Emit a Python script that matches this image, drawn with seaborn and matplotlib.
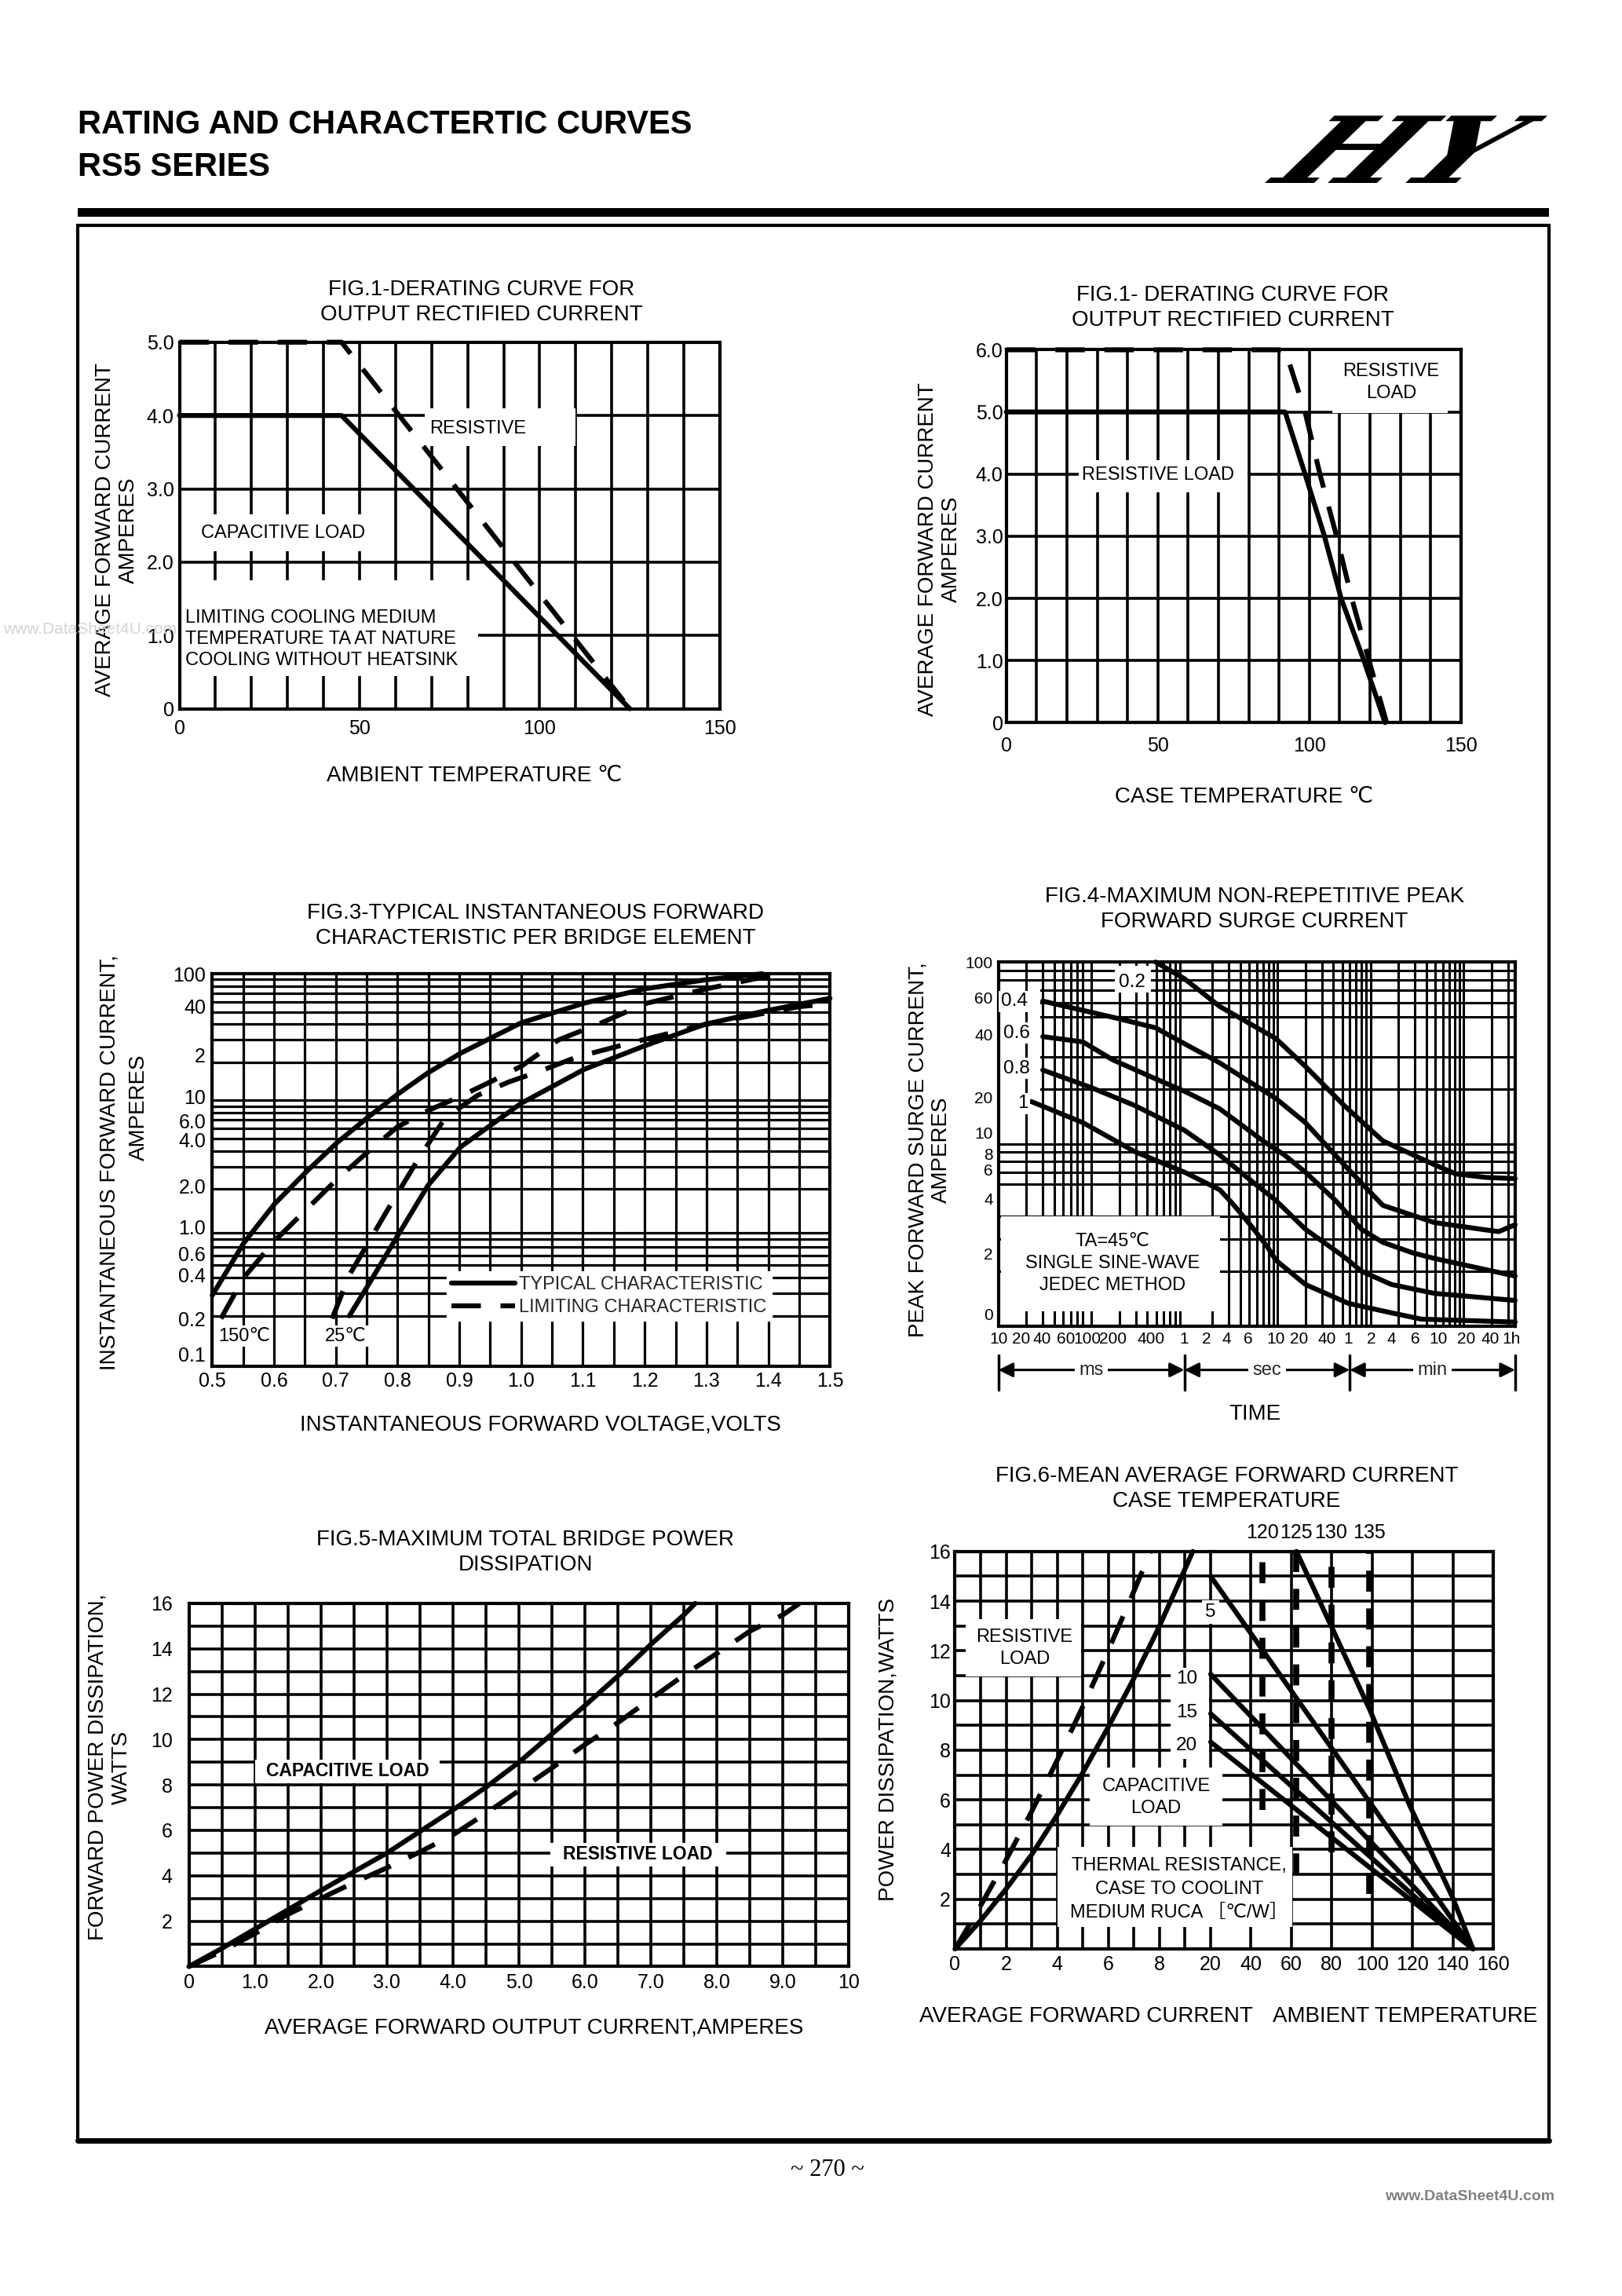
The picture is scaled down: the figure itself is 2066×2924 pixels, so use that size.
import numpy as np
import matplotlib
matplotlib.use("Agg")
import matplotlib.pyplot as plt
import seaborn as sns
from matplotlib.patches import Rectangle, PathPatch
from matplotlib.lines import Line2D
from matplotlib.textpath import TextPath
from matplotlib.font_manager import FontProperties
from matplotlib.transforms import blended_transform_factory, Affine2D
from matplotlib.ticker import FixedLocator, NullFormatter

# ---------------- values ----------------
# Fig.1 derating vs ambient temperature (degC -> A)
f1_temp = [0, 45, 125]
f1_amps_capacitive = [4.0, 4.0, 0.0]
f1_amps_resistive = [5.0, 5.0, 0.0]
f1_xticks = [0, 50, 100, 150]
f1_yticks = [0, 1, 2, 3, 4, 5]
f1_yticklabels = ["0", "1.0", "2.0", "3.0", "4.0", "5.0"]

# Fig.2 derating vs case temperature
f2_temp_solid = [0, 92, 98.6, 105, 110.5, 118, 125]
f2_amps_solid = [5.0, 5.0, 4.0, 3.0, 2.0, 1.0, 0.0]
f2_temp_dash = [0, 92, 98.6, 103.5, 109, 114, 119.7, 125.5]
f2_amps_dash = [6.0, 6.0, 5.0, 4.0, 3.0, 2.0, 1.0, 0.0]
f2_yticks = [0, 1, 2, 3, 4, 5, 6]
f2_yticklabels = ["0", "1.0", "2.0", "3.0", "4.0", "5.0", "6.0"]

# Fig.3 forward characteristic (V -> A)
f3_v_150_typ = [0.5, 0.551, 0.601, 0.653, 0.702, 0.751, 0.80, 0.849, 0.902, 1.0, 1.102, 1.2, 1.298, 1.39]
f3_i_150_typ = [0.29, 0.75, 1.53, 2.76, 4.65, 7.3, 11.2, 16.5, 23.6, 41, 58.6, 76, 89.5, 100]
f3_v_150_lim = [0.514, 0.551, 0.601, 0.653, 0.70, 0.751, 0.80, 0.849, 0.90, 0.95, 1.0, 1.06, 1.13, 1.2, 1.3, 1.4]
f3_i_150_lim = [0.19, 0.40, 0.78, 1.39, 2.34, 3.9, 6.2, 8.3, 10.7, 14, 18.6, 30, 41, 58, 76, 96]
f3_v_25_typ = [0.722, 0.751, 0.80, 0.849, 0.902, 1.0, 1.102, 1.2, 1.298, 1.396, 1.5]
f3_i_25_typ = [0.2, 0.34, 0.855, 2.13, 4.3, 9.5, 17.6, 27, 40, 51, 64]
f3_v_25_lim = [0.694, 0.722, 0.783, 0.832, 0.877, 0.93, 0.98, 1.03, 1.09, 1.18, 1.30, 1.45, 1.5]
f3_i_25_lim = [0.19, 0.42, 1.35, 3.35, 7.3, 11, 14, 17, 22, 28.7, 40, 55, 58]
f3_xticks = [0.5, 0.6, 0.7, 0.8, 0.9, 1.0, 1.1, 1.2, 1.3, 1.4, 1.5]
f3_xticklabels = ["0.5", "0.6", "0.7", "0.8", "0.9", "1.0", "1.1", "1.2", "1.3", "1.4", "1.5"]
f3_yticks = [100, 55, 23, 10.8, 6.9, 4.9, 2.1, 1, 0.62, 0.42, 0.19, 0.1]
f3_yticklabels = ["100", "40", "2", "10", "6.0", "4.0", "2.0", "1.0", "0.6", "0.4", "0.2", "0.1"]
f3_legend = ["TYPICAL CHARACTERISTIC", "LIMITING CHARACTERISTIC"]
f3_temps = ["150℃", "25℃"]

# Fig.4 surge current vs time (s -> A)
f4_params = ["0.2", "0.4", "0.6", "0.8", "1"]
f4_t_02 = [0.49, 1.0, 2.4, 9.6, 20, 52, 136, 486, 826, 1740, 3600]
f4_i_02 = [100, 81, 57, 38, 26.7, 16.3, 10.4, 7.7, 6.85, 6.55, 6.45]
f4_t_04 = [0.03, 0.17, 0.49, 1.0, 2.4, 9.6, 20, 52, 136, 486, 1740, 2400, 3600]
f4_i_04 = [61, 49.7, 43.5, 35.6, 27.9, 17.8, 13.1, 7.7, 4.6, 3.7, 3.37, 3.3, 3.6]
f4_t_06 = [0.03, 0.081, 0.17, 0.49, 1.0, 2.4, 7.0, 11.9, 20, 42, 80, 136, 286, 486, 3600]
f4_i_06 = [38.9, 36.4, 29, 22.8, 19.5, 15.6, 10.4, 8.7, 7.0, 4.9, 3.4, 2.88, 2.52, 2.35, 1.88]
f4_t_08 = [0.03, 0.1, 0.29, 1.0, 2.4, 5.6, 9.6, 20, 52, 80, 168, 486, 3600]
f4_i_08 = [25.5, 20.4, 16.3, 11.9, 8.7, 6.1, 4.9, 3.4, 2.4, 2.0, 1.69, 1.51, 1.38]
f4_t_1 = [0.0226, 0.081, 0.29, 1.0, 2.4, 3.3, 5.1, 7.7, 9.6, 20, 58, 168, 353, 3600]
f4_i_1 = [17.1, 13.1, 9.1, 7.0, 5.6, 4.7, 3.6, 2.75, 2.3, 1.69, 1.33, 1.18, 1.09, 1.05]
# tick labels sit where the sheet prints them (not exactly on the log positions)
f4_xticks = [0.01, 0.0174, 0.0295, 0.053, 0.09, 0.169, 0.44, 1.0, 1.74, 2.83, 4.86, 9.6, 17.1, 34,
             58, 103, 167, 304, 535, 1066, 1930, 3300]
f4_xticklabels = ["10", "20", "40", "60", "100", "200", "400", "1", "2", "4", "6", "10", "20", "40",
                  "1", "2", "4", "6", "10", "20", "40", "1h"]
f4_yticks = [1.16, 2.5, 5.0, 7.2, 8.8, 11.5, 18, 40, 64, 100]
f4_yticklabels = ["0", "2", "4", "6", "8", "10", "20", "40", "60", "100"]
f4_units = ["ms", "sec", "min"]
f4_unit_edges = [0.01, 1, 60, 3600]

# Fig.5 bridge power dissipation (A -> W)
f5_i_cap = [0, 0.5, 1.0, 1.5, 2.0, 2.5, 3.0, 3.5, 4.0, 4.5, 5.0, 5.5, 6.0, 6.5, 7.0, 7.5, 7.67]
f5_p_cap = [0, 0.8, 1.65, 2.5, 3.35, 4.18, 5.0, 5.95, 6.9, 7.9, 9.0, 10.25, 11.5, 12.8, 14.2, 15.5, 16]
f5_i_res = [0, 0.5, 1.0, 1.5, 2.0, 2.5, 3.0, 3.5, 4.0, 4.5, 5.0, 5.5, 6.0, 6.5, 7.0, 7.5, 8.0, 8.5, 9.0, 9.25]
f5_p_res = [0, 0.67, 1.45, 2.3, 3.0, 3.7, 4.35, 5.05, 5.8, 6.75, 7.75, 8.75, 9.78, 10.75, 11.8, 12.84,
            13.8, 14.78, 15.5, 16]
f5_xticks = [0, 1, 2, 3, 4, 5, 6, 7, 8, 9, 10]
f5_xticklabels = ["0", "1.0", "2.0", "3.0", "4.0", "5.0", "6.0", "7.0", "8.0", "9.0", "10"]
f5_yticks = [2, 4, 6, 8, 10, 12, 14, 16]

# Fig.6 mean forward current / case temperature
f6_i_res = [0, 1, 2, 3, 4, 5, 6, 7, 7.65]
f6_p_res = [0, 1.74, 3.59, 5.54, 7.6, 9.76, 12.03, 14.4, 16]
f6_i_cap = [0, 1, 2, 3, 4, 5, 6, 7, 8, 9, 9.3]
f6_p_cap = [0, 1.14, 2.42, 3.8, 5.4, 7.1, 8.94, 10.9, 13.0, 15.3, 16]
f6_rth_labels = ["5", "10", "15", "20"]
f6_rth_start_w = [15.0, 11.06, 9.47, 8.33]
f6_amb_ends = [20, 150]
f6_amb_steep = [62.5, 80, 99, 118.5, 140, 150]
f6_p_steep = [16, 12.95, 9.6, 5.8, 2.05, 0]
f6_case_labels = ["120", "125", "130", "135"]
f6_case_amb = [45.6, 62.5, 79.7, 98.4]
f6_case_low = [5.6, 3.0, 3.9, 2.2]
f6_left_xticks = [0, 2, 4, 6, 8]
f6_right_xticks = [20, 40, 60, 80, 100, 120, 140, 160]

# ---------------- page setup ----------------
sns.set_theme(style="white")
plt.rcParams["font.family"] = ["Liberation Sans", "DejaVu Sans", "Noto Sans CJK SC"]

W, H = 1108, 1568          # layout measured on the preview size
GRID = 2.6
LW = 4.5
TITLE = 20
NOTE = 17
TICK = 18
fig = plt.figure(figsize=(20.66, 29.24), dpi=100)


def box(l, t, r, b):
    return [l / W, 1 - b / H, (r - l) / W, (b - t) / H]


def ftext(x, y, s, size=TITLE, **kw):
    kw.setdefault("ha", "center")
    kw.setdefault("va", "center")
    fig.text(x / W, 1 - y / H, s, fontsize=size, color="black", **kw)


def frame(ax, xpad=8, ypad=6, size=TICK):
    ax.set_axisbelow(True)
    ax.grid(False)
    for sp in ax.spines.values():
        sp.set_visible(True)
        sp.set_color("black")
        sp.set_linewidth(3)
    ax.tick_params(which="both", length=0, labelsize=size, colors="black")
    ax.tick_params(axis="x", pad=xpad)
    ax.tick_params(axis="y", pad=ypad)
    ax.set_xlabel("")
    ax.set_ylabel("")


def grid(ax, wx="both", wy="both", lw=GRID):
    ax.xaxis.grid(True, which=wx, color="black", linewidth=lw)
    ax.yaxis.grid(True, which=wy, color="black", linewidth=lw)


def knockout(ax, x0, x1, y0, y1, clip=False):
    ax.add_patch(Rectangle((x0, y0), x1 - x0, y1 - y0, facecolor="white",
                           edgecolor="none", zorder=1.5, clip_on=clip))


def curve(ax, x, y, dashed=False, dash=(6, 4), lw=LW):
    sns.lineplot(x=x, y=y, ax=ax, color="black", linewidth=lw,
                 linestyle=(0, dash) if dashed else "-", clip_on=False, zorder=3)


def note(ax, x, y, s, size=NOTE, white=False, **kw):
    kw.setdefault("ha", "center")
    kw.setdefault("va", "center")
    if white:
        kw["bbox"] = dict(facecolor="white", edgecolor="none", pad=2)
    ax.text(x, y, s, fontsize=size, color="black", zorder=4, clip_on=False, **kw)


def log_grid(lo, hi, top):
    return [k * 10.0 ** e for e in range(lo, hi + 1) for k in range(1, 10) if k * 10.0 ** e <= top]


# header
ftext(53, 85, "RATING AND CHARACTERTIC CURVES", size=30, ha="left", weight="bold")
ftext(53, 114, "RS5 SERIES", size=30, ha="left", weight="bold")
ax_logo = fig.add_axes(box(864, 79, 1057, 125))
ax_logo.axis("off")
tp = TextPath((0, 0), "HY", size=100,
              prop=FontProperties(family="DejaVu Serif", weight="bold"))
tp = Affine2D().skew_deg(36, 0).transform_path(tp)
ax_logo.add_patch(PathPatch(tp, facecolor="black", edgecolor="none"))
ext = tp.get_extents()
ax_logo.set_xlim(ext.x0, ext.x1)
ax_logo.set_ylim(ext.y0, ext.y1)
fig.add_artist(Rectangle((53 / W, 1 - 148 / H), 1005 / W, 6 / H, transform=fig.transFigure,
                         facecolor="black", edgecolor="none"))
fig.add_artist(Rectangle((53 / W, 1 - 1462 / H), 1005 / W, (1462 - 154) / H, transform=fig.transFigure,
                         fill=False, edgecolor="black", linewidth=3))
fig.add_artist(Line2D([53 / W, 1058 / W], [1 - 1462 / H] * 2, transform=fig.transFigure,
                      color="black", linewidth=5))

# ---------------- Fig.1 ----------------
ax1 = fig.add_axes(box(122.6, 233.7, 491.7, 484))
frame(ax1, xpad=10, ypad=5)
curve(ax1, f1_temp, f1_amps_capacitive)
curve(ax1, f1_temp, f1_amps_resistive, dashed=True)
ax1.set_xlim(0, 150)
ax1.set_ylim(0, 5)
ax1.set_xticks(f1_xticks)
ax1.set_xticks(np.arange(0, 151, 10), minor=True)
ax1.set_yticks(f1_yticks, f1_yticklabels)
grid(ax1)
knockout(ax1, 68, 110, 3.58, 4.1)
note(ax1, 69.5, 3.82, "RESISTIVE", ha="left")
knockout(ax1, 3.6, 55, 2.15, 2.65)
note(ax1, 6, 2.4, "CAPACITIVE LOAD", ha="left")
knockout(ax1, 0, 83, 0.45, 1.75)
note(ax1, 1.6, 0.95, "LIMITING COOLING MEDIUM\nTEMPERATURE TA AT NATURE\nCOOLING WITHOUT HEATSINK",
     ha="left", linespacing=1.3)
ftext(329, 206.5, "FIG.1-DERATING CURVE FOR\nOUTPUT RECTIFIED CURRENT", linespacing=1.3)
ftext(324, 530, "AMBIENT TEMPERATURE ℃")
ftext(80, 362, "AVERAGE FORWARD CURRENT\nAMPERES", rotation=90, linespacing=1.2)

# ---------------- Fig.2 ----------------
ax2 = fig.add_axes(box(687.4, 238.9, 997.9, 493.5))
frame(ax2, xpad=13, ypad=3)
curve(ax2, f2_temp_solid, f2_amps_solid)
curve(ax2, f2_temp_dash, f2_amps_dash, dashed=True)
ax2.set_xlim(0, 150)
ax2.set_ylim(0, 6)
ax2.set_xticks(f1_xticks)
ax2.set_xticks(np.arange(0, 151, 10), minor=True)
ax2.set_yticks(f2_yticks, f2_yticklabels)
grid(ax2)
knockout(ax2, 24, 79.6, 3.7, 4.22)
note(ax2, 50, 3.98, "RESISTIVE LOAD")
knockout(ax2, 107.7, 145.6, 4.98, 6.0)
note(ax2, 127, 5.47, "RESISTIVE\nLOAD", linespacing=1.35)
ftext(842, 210, "FIG.1- DERATING CURVE FOR\nOUTPUT RECTIFIED CURRENT", linespacing=1.3)
ftext(850, 544, "CASE TEMPERATURE ℃")
ftext(642, 375, "AVERAGE FORWARD CURRENT\nAMPERES", rotation=90, linespacing=1.2)

# ---------------- Fig.3 ----------------
ax3 = fig.add_axes(box(145, 665, 567, 933))
ax3.set_yscale("log")
frame(ax3, xpad=5, ypad=6)
curve(ax3, f3_v_150_typ, f3_i_150_typ)
curve(ax3, f3_v_150_lim, f3_i_150_lim, dashed=True)
curve(ax3, f3_v_25_typ, f3_i_25_typ)
curve(ax3, f3_v_25_lim, f3_i_25_lim, dashed=True)
ax3.set_xlim(0.5, 1.5)
ax3.set_ylim(0.08, 100)
ax3.set_xticks(f3_xticks, f3_xticklabels)
ax3.set_xticks(np.arange(0.5, 1.501, 0.05), minor=True)
ax3.yaxis.set_major_locator(FixedLocator(f3_yticks))
ax3.set_yticklabels(f3_yticklabels)
ax3.yaxis.set_minor_locator(FixedLocator(log_grid(-1, 2, 100)))
ax3.yaxis.set_minor_formatter(NullFormatter())
grid(ax3, wx="both", wy="minor", lw=2.3)
handles = [Line2D([], [], color="black", lw=LW),
           Line2D([], [], color="black", lw=LW, linestyle=(0, (6, 4)))]
leg = ax3.legend(handles, f3_legend, loc="upper left", bbox_to_anchor=(0.365, 0.265),
                 frameon=True, fancybox=False, framealpha=1, facecolor="white", edgecolor="white",
                 fontsize=NOTE, handlelength=3.4, handletextpad=0.25, borderpad=0.25, labelspacing=0.3)
leg.set_zorder(5)
note(ax3, 0.552, 0.138, f3_temps[0], white=True)
note(ax3, 0.716, 0.138, f3_temps[1], white=True)
ftext(366, 632, "FIG.3-TYPICAL INSTANTANEOUS FORWARD\nCHARACTERISTIC PER BRIDGE ELEMENT", linespacing=1.3)
ftext(369, 973, "INSTANTANEOUS FORWARD VOLTAGE,VOLTS")
ftext(75, 794, "INSTANTANEOUS FORWARD CURRENT,", rotation=90)
ftext(95, 756, "AMPERES", rotation=90)

# ---------------- Fig.4 ----------------
ax4 = fig.add_axes(box(682, 657, 1035, 905.5))
ax4.set_xscale("log")
ax4.set_yscale("log")
frame(ax4, xpad=5, ypad=5, size=15)
for t, i in [(f4_t_02, f4_i_02), (f4_t_04, f4_i_04), (f4_t_06, f4_i_06), (f4_t_08, f4_i_08), (f4_t_1, f4_i_1)]:
    curve(ax4, t, i)
ax4.set_xlim(0.01, 3600)
ax4.set_ylim(1, 100)
ax4.xaxis.set_major_locator(FixedLocator(f4_xticks))
ax4.set_xticklabels(f4_xticklabels)
ax4.xaxis.set_minor_locator(FixedLocator(log_grid(-2, 3, 3600)))
ax4.xaxis.set_minor_formatter(NullFormatter())
ax4.yaxis.set_major_locator(FixedLocator(f4_yticks))
ax4.set_yticklabels(f4_yticklabels)
ax4.yaxis.set_minor_locator(FixedLocator(log_grid(0, 2, 100)))
ax4.yaxis.set_minor_formatter(NullFormatter())
grid(ax4, wx="minor", wy="minor", lw=2.2)
knockout(ax4, 0.01, 0.028, 15.5, 78)
ax4.plot([0.02, 0.02], [15.5, 78], color="black", lw=2.2, zorder=1.6)
knockout(ax4, 0.178, 0.44, 68, 95)
note(ax4, 0.274, 77.6, f4_params[0], size=17.5)
for s, t, i in zip(f4_params[1:], [0.0148, 0.0156, 0.0156, 0.0183], [60.7, 40.7, 26, 16.7]):
    note(ax4, t, i, s, size=17.5, white=True)
knockout(ax4, 0.0107, 2.41, 1.2, 4.0)
note(ax4, 0.17, 2.2, "TA=45℃\nSINGLE SINE-WAVE\nJEDEC METHOD", linespacing=1.35)
tr4 = blended_transform_factory(ax4.transData, ax4.transAxes)
for unit, a, b in zip(f4_units, f4_unit_edges[:-1], f4_unit_edges[1:]):
    ax4.annotate("", xy=(a, -0.121), xytext=(b, -0.121), xycoords=tr4, textcoords=tr4,
                 annotation_clip=False,
                 arrowprops=dict(arrowstyle="<|-|>", color="black", lw=2.2, shrinkA=0, shrinkB=0,
                                 mutation_scale=28))
    ax4.text(np.sqrt(a * b), -0.121, unit, transform=tr4, ha="center", va="center", fontsize=NOTE,
             bbox=dict(facecolor="white", edgecolor="none", pad=4), zorder=5)
for t in f4_unit_edges:
    ax4.plot([t, t], [-0.081, -0.175], transform=tr4, clip_on=False, color="black", lw=2.5)
ftext(857, 621, "FIG.4-MAXIMUM NON-REPETITIVE PEAK\nFORWARD SURGE CURRENT", linespacing=1.3)
ftext(857, 966, "TIME")
ftext(635, 785, "PEAK FORWARD SURGE CURRENT,\nAMPERES", rotation=90, linespacing=1.2)

# ---------------- Fig.5 ----------------
ax5 = fig.add_axes(box(129, 1095, 580, 1343))
frame(ax5, xpad=6, ypad=15)
curve(ax5, f5_i_cap, f5_p_cap)
curve(ax5, f5_i_res, f5_p_res, dashed=True)
ax5.set_xlim(0, 10)
ax5.set_ylim(0, 16)
ax5.set_xticks(f5_xticks, f5_xticklabels)
ax5.set_xticks(np.arange(0, 10.01, 0.5), minor=True)
ax5.set_yticks(f5_yticks)
ax5.set_yticks(np.arange(0, 17, 1), minor=True)
grid(ax5)
knockout(ax5, 1.01, 3.8, 8.06, 9.1)
note(ax5, 2.4, 8.6, "CAPACITIVE LOAD", size=16.5, weight="bold")
knockout(ax5, 5.48, 8.14, 4.4, 5.45)
note(ax5, 6.8, 4.93, "RESISTIVE LOAD", size=16.5, weight="bold")
ftext(359, 1060, "FIG.5-MAXIMUM TOTAL BRIDGE POWER\nDISSIPATION", linespacing=1.3)
ftext(365, 1385, "AVERAGE FORWARD OUTPUT CURRENT,AMPERES")
ftext(75, 1207, "FORWARD POWER DISSIPATION,\nWATTS", rotation=90, linespacing=1.2)

# ---------------- Fig.6 (two panels side by side) ----------------
ax6l = fig.add_axes(box(652.4, 1059.5, 827, 1331))
ax6r = fig.add_axes(box(827, 1059.5, 1020, 1331))
frame(ax6l, xpad=6, ypad=4)
frame(ax6r, xpad=6, ypad=4)
ax6l.spines["right"].set_visible(False)
ax6r.spines["left"].set_visible(False)
ax6r.tick_params(labelleft=False)

curve(ax6l, f6_i_res, f6_p_res, dashed=True)
curve(ax6l, f6_i_cap, f6_p_cap)
ax6l.set_xlim(0, 10)
ax6l.set_ylim(0, 16)
ax6l.set_xticks(f6_left_xticks)
ax6l.set_xticks(np.arange(0, 11, 1), minor=True)
ax6l.set_yticks(f5_yticks)
ax6l.set_yticks(np.arange(0, 17, 1), minor=True)
grid(ax6l)

for w in f6_rth_start_w:
    curve(ax6r, f6_amb_ends, [w, 0])
curve(ax6r, f6_amb_steep, f6_p_steep)
ax6r.vlines(f6_case_amb, f6_case_low, 16, colors="black", linewidth=5.5,
            linestyles=(0, (3.5, 2.8)), zorder=2.8, clip_on=False)
ax6r.set_xlim(20, 160)
ax6r.set_ylim(0, 16)
ax6r.set_xticks(f6_right_xticks)
ax6r.set_yticks(f5_yticks)
ax6r.set_yticks(np.arange(0, 17, 1), minor=True)
grid(ax6r)
for s, t in zip(f6_case_labels, f6_case_amb):
    note(ax6r, t, 16.75, s, size=TICK)

# white boxes, split between the two panels
knockout(ax6l, 0.42, 4.93, 10.98, 13.26, clip=True)
knockout(ax6l, 5.27, 10, 4.95, 7.3, clip=True)
knockout(ax6r, 20, 25.8, 4.95, 7.3, clip=True)
knockout(ax6l, 4.0, 10, 0.9, 4.1, clip=True)
knockout(ax6r, 20, 60.5, 0.9, 4.1, clip=True)
knockout(ax6l, 8.42, 9.95, 7.65, 11.3, clip=True)


def ftext6(x, y, s, size=NOTE, **kw):
    fig.text(x, y, s, transform=ax6l.transData, fontsize=size, color="black",
             ha="center", va="center", zorder=5, **kw)


ftext6(2.72, 12.1, "RESISTIVE\nLOAD", linespacing=1.35)
ftext6(7.87, 6.1, "CAPACITIVE\nLOAD", linespacing=1.35)
ftext6(8.76, 2.4, "THERMAL RESISTANCE,\nCASE TO COOLINT\nMEDIUM RUCA ［℃/W］", linespacing=1.45)
ftext6(10.0, 13.56, f6_rth_labels[0], size=17.5, bbox=dict(facecolor="white", edgecolor="none", pad=3))
for s, p in zip(f6_rth_labels[1:], [10.86, 9.5, 8.18]):
    ftext6(9.06, p, s, size=17.5)

ftext(838, 1017, "FIG.6-MEAN AVERAGE FORWARD CURRENT\nCASE TEMPERATURE", linespacing=1.3)
ftext(742, 1377, "AVERAGE FORWARD CURRENT")
ftext(960, 1377, "AMBIENT TEMPERATURE")
ftext(607, 1195, "POWER DISSIPATION,WATTS", rotation=90)

# footer and watermarks
ftext(565, 1482, "~ 270 ~", size=22, family="Liberation Serif")
fig.text(1004 / W, 1 - 1500 / H, "www.DataSheet4U.com", fontsize=14, color="#808080",
         weight="bold", ha="center", va="center")
fig.text(2 / W, 1 - 430 / H, "www.DataSheet4U.com", fontsize=15, color="#d4d4d4",
         ha="left", va="center", zorder=10)

fig.savefig("out.png", dpi=100, facecolor="white")
